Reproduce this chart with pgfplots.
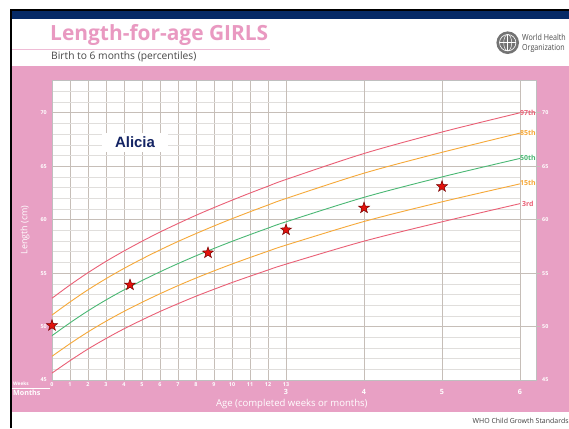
\documentclass[border=0pt]{standalone}
\usepackage{fontspec}
\setmainfont{Open Sans}
\newfontfamily\arialfont{Liberation Sans}
\usepackage{pgfplots}
\usepackage{pgfplotstable}
\pgfplotsset{compat=1.18}

\definecolor{whopink}{RGB}{232,160,196}
\definecolor{titlepink}{RGB}{233,153,193}
\definecolor{navy}{RGB}{6,42,102}
\definecolor{pRed}{RGB}{234,96,118}
\definecolor{pOrange}{RGB}{246,168,56}
\definecolor{pGreen}{RGB}{74,184,116}
\definecolor{gridMinor}{RGB}{224,222,220}
\definecolor{gridMajor}{RGB}{198,190,184}
\definecolor{starRed}{RGB}{226,18,12}
\definecolor{starDark}{RGB}{120,0,0}
\definecolor{aliciaBlue}{RGB}{20,36,100}

% length-for-age, girls; x in months (weeks 0-13, then months 4-6)
\pgfplotstableread{
m      p3    p15   p50   p85   p97
0.0000 45.65 47.22 49.15 51.08 52.65
0.2308 46.81 48.40 50.35 52.30 53.89
0.4615 47.90 49.50 51.47 53.44 55.04
0.6923 48.88 50.50 52.49 54.48 56.10
0.9231 49.79 51.42 53.43 55.44 57.07
1.1538 50.62 52.27 54.30 56.33 57.98
1.3846 51.41 53.07 55.12 57.17 58.84
1.6154 52.14 53.83 55.89 57.96 59.64
1.8462 52.84 54.54 56.62 58.70 60.41
2.0769 53.49 55.21 57.31 59.41 61.13
2.3077 54.12 55.85 57.97 60.09 61.82
2.5385 54.71 56.46 58.60 60.74 62.49
2.7692 55.29 57.05 59.21 61.37 63.13
3.0000 55.84 57.62 59.80 61.98 63.76
4.0000 57.99 59.83 62.09 64.35 66.19
5.0000 59.80 61.67 64.00 66.30 68.20
6.0000 61.50 63.35 65.73 68.10 70.00
}\lfa

\pgfplotstableread{
m  len
0  50.1
1  53.9
2  56.9
3  59.05
4  61.1
5  63.1
}\alicia

\pgfdeclareplotmark{fstar}{%
  \pgfpathmoveto{\pgfpointpolar{90}{\pgfplotmarksize}}%
  \pgfpathlineto{\pgfpointpolar{126}{0.40*\pgfplotmarksize}}%
  \pgfpathlineto{\pgfpointpolar{162}{\pgfplotmarksize}}%
  \pgfpathlineto{\pgfpointpolar{198}{0.40*\pgfplotmarksize}}%
  \pgfpathlineto{\pgfpointpolar{234}{\pgfplotmarksize}}%
  \pgfpathlineto{\pgfpointpolar{270}{0.40*\pgfplotmarksize}}%
  \pgfpathlineto{\pgfpointpolar{306}{\pgfplotmarksize}}%
  \pgfpathlineto{\pgfpointpolar{342}{0.40*\pgfplotmarksize}}%
  \pgfpathlineto{\pgfpointpolar{18}{\pgfplotmarksize}}%
  \pgfpathlineto{\pgfpointpolar{54}{0.40*\pgfplotmarksize}}%
  \pgfpathclose
  \pgfusepathqfillstroke
}

\begin{document}
\begin{tikzpicture}[x=1bp,y=-1bp]
\clip (0,0) rectangle (569,428);
\fill[white] (0,0) rectangle (569,428);
% frame and header
\fill[black] (10,9) rectangle (569,11);
\fill[black] (10,9) rectangle (12,428);
\fill[navy] (12,11) rectangle (569,19);
\node[anchor=base west, inner sep=0, text=titlepink, font=\fontsize{21}{24}\selectfont\bfseries] at (50,40.7) {Length-for-age GIRLS};
\draw[whopink!70, line width=0.9] (12,49) -- (270,49);
\node[anchor=base west, inner sep=0, text=black!72, font=\fontsize{10.3}{12}\selectfont] at (51,59.5) {Birth to 6 months (percentiles)};
% logo
\fill[black!55] (507.7,42.7) circle (11.3);
\draw[white, line width=0.6] (507.7,42.7) circle (8.2);
\draw[white, line width=0.5] (507.7,34.5) -- (507.7,50.9) (499.5,42.7) -- (515.9,42.7);
\draw[white, line width=0.5] (507.7,42.7) ellipse (4 and 8.2);
\node[anchor=base west, inner sep=0, xscale=0.85, text=black!70, font=\fontsize{8.4}{9}\selectfont] at (522,40.5) {World Health};
\node[anchor=base west, inner sep=0, xscale=0.85, text=black!70, font=\fontsize{8.4}{9}\selectfont] at (522,50) {Organization};
\node[anchor=base west, inner sep=0, text=black!75, font=\fontsize{7}{8}\selectfont] at (472.5,423.5) {WHO Child Growth Standards};
% pink band
\fill[whopink] (12,66) rectangle (569,412);
\node[rotate=90, text=white, font=\fontsize{9}{10}\selectfont] at (25,230) {Length (cm)};
\node[text=white, font=\fontsize{9.6}{11}\selectfont] at (291.8,403.6) {Age (completed weeks or months)};
\node[anchor=west, inner sep=0, text=white, font=\fontsize{4.8}{5}\selectfont\bfseries] at (13,383.5) {Weeks};
\draw[white, line width=0.5] (12,388.3) -- (50,388.3);
\node[anchor=west, inner sep=0, text=white, font=\fontsize{7.2}{8}\selectfont\bfseries] at (13,393) {Months};

\begin{axis}[
  at={(52bp,-380bp)}, anchor=south west,
  scale only axis, width=484bp, height=299.3bp,
  xmin=0, xmax=6.205, ymin=45, ymax=73,
  clip=false,
  axis background/.style={fill=white},
  axis line style={draw=black!25, line width=0.8bp},
  major tick length=0pt, minor tick length=0pt,
  xtick={0,0.2308,0.4615,0.6923,0.9231,1.1538,1.3846,1.6154,1.8462,2.0769,2.3077,2.5385,2.7692,3.0},
  xticklabels={0,1,2,3,4,5,6,7,8,9,10,11,12,13},
  xticklabel style={anchor=center, yshift=-4.4bp, text=white, font=\fontsize{5.4}{6}\selectfont\bfseries},
  extra x ticks={3,4,5,6},
  extra x tick labels={3,4,5,6},
  extra x tick style={grid=major, xticklabel style={yshift=-7.8bp, font=\fontsize{7.2}{8}\selectfont\bfseries}},
  ytick={45,50,55,60,65,70},
  minor ytick={46,47,48,49,51,52,53,54,56,57,58,59,61,62,63,64,66,67,68,69,71,72},
  yticklabel style={text=white, inner sep=0pt, xshift=-5bp, font=\fontsize{5.4}{6}\selectfont\bfseries},
  /pgf/number format/assume math mode=true,
  grid=both,
  minor grid style={draw=gridMinor, line width=0.6bp},
  major grid style={draw=gridMajor, line width=0.8bp},
]
% the minor horizontal rules stop at six months
\fill[white] (axis cs:6,45) rectangle (axis cs:6.205,73);
\draw[gridMajor, line width=0.8bp] (axis cs:6,45) -- (axis cs:6,73);
\pgfplotsinvokeforeach{50,55,60,65,70}{
  \draw[gridMajor, line width=0.8bp] (axis cs:6,#1) -- (axis cs:6.27,#1);
  \node[anchor=west, inner sep=0, xshift=6bp, text=white, font=\fontsize{5.4}{6}\selectfont\bfseries] at (axis cs:6.205,#1) {#1};
}
\node[anchor=west, inner sep=0, xshift=6bp, text=white, font=\fontsize{5.4}{6}\selectfont\bfseries] at (axis cs:6.205,45) {45};
\draw[black!25, line width=0.8bp] (axis cs:6.205,45) -- (axis cs:6.205,73);

\addplot[pRed, line width=0.9bp, smooth] table[x=m, y=p3] {\lfa};
\addplot[pOrange, line width=0.9bp, smooth] table[x=m, y=p15] {\lfa};
\addplot[pGreen, line width=0.9bp, smooth] table[x=m, y=p50] {\lfa};
\addplot[pOrange, line width=0.9bp, smooth] table[x=m, y=p85] {\lfa};
\addplot[pRed, line width=0.9bp, smooth] table[x=m, y=p97] {\lfa};

\node[text=pRed, inner sep=0, font=\fontsize{7}{8}\selectfont\bfseries] at (axis cs:6.1,70.0) {97th};
\node[text=pOrange, inner sep=0, font=\fontsize{7}{8}\selectfont\bfseries] at (axis cs:6.1,68.1) {85th};
\node[text=pGreen, inner sep=0, font=\fontsize{7}{8}\selectfont\bfseries] at (axis cs:6.1,65.8) {50th};
\node[text=pOrange, inner sep=0, font=\fontsize{7}{8}\selectfont\bfseries] at (axis cs:6.1,63.4) {15th};
\node[text=pRed, inner sep=0, font=\fontsize{7}{8}\selectfont\bfseries] at (axis cs:6.1,61.5) {3rd};

\node[fill=white, inner sep=0, minimum width=66.6bp, minimum height=19bp, text=aliciaBlue, font=\arialfont\fontsize{15}{16}\selectfont\bfseries] at (axis cs:1.064,67.23) {Alicia};

\addplot[only marks, mark=fstar, mark size=5.8bp,
  mark options={fill=starRed, draw=starDark, line width=0.5bp}] table[x=m, y=len] {\alicia};
\end{axis}
\end{tikzpicture}
\end{document}
